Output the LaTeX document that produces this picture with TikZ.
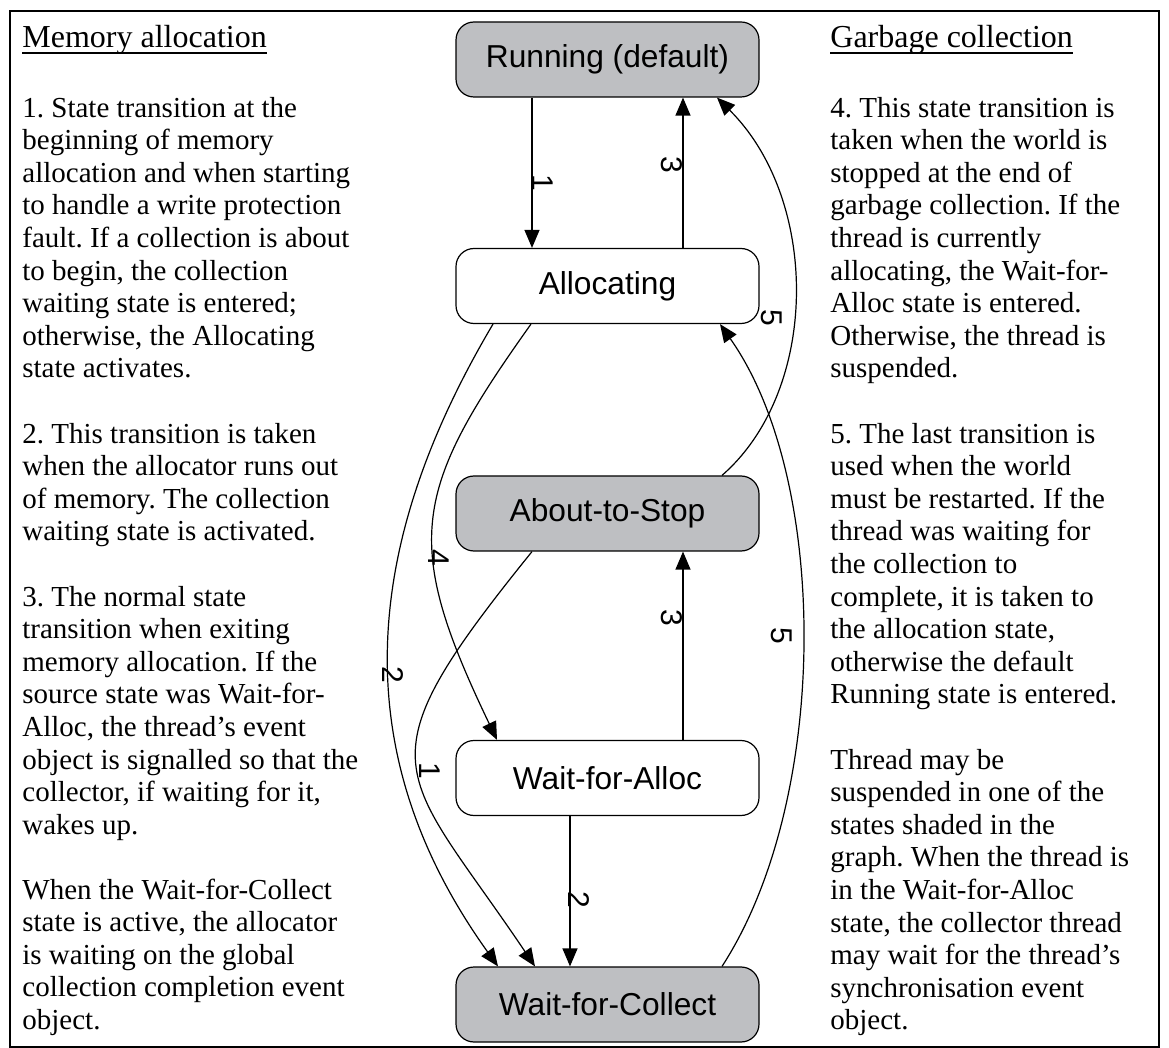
\documentclass[tikz,border=0pt]{standalone}
\usepackage{fontspec}
\setmainfont{Liberation Serif}
\newfontfamily\arialf{Liberation Sans}
\usetikzlibrary{arrows.meta,calc}
\definecolor{stategray}{RGB}{190,191,194}
\frenchspacing
\begin{document}
\frenchspacing
\begin{tikzpicture}[x=0.5pt,y=-0.5pt,
  state/.style={draw=black, line width=0.6pt, rounded corners=9pt, minimum width=151.5pt, minimum height=37.5pt, inner sep=0pt, font=\arialf\fontsize{15.85}{18}\selectfont},
  shadedstate/.style={state, fill=stategray},
  plainstate/.style={state, fill=white},
  trans/.style={line width=0.6pt, -{Triangle[length=9pt,width=7.5pt]}},
  lbl/.style={inner sep=0pt, rotate=-90, font=\arialf\fontsize{15}{18}\selectfont},
  para/.style={anchor=base west, align=left, inner sep=0pt, font=\fontsize{14.5}{16.3}\selectfont},
  head/.style={anchor=base west, inner sep=0pt, font=\fontsize{16}{18}\selectfont},
  uline/.style={line width=0.6pt}
]
\path[use as bounding box] (0,0) rectangle (1169,1048);
\draw[line width=0.7pt] (10,11) rectangle (1159,1047);

% states
\node[shadedstate] (run) at (607.5,59.5) {Running (default)};
\node[plainstate] (alloc) at (607.5,286) {Allocating};
\node[shadedstate] (stop) at (607.5,513.5) {About-to-Stop};
\node[plainstate] (wfa) at (607.5,778) {Wait-for-Alloc};
\node[shadedstate] (wfc) at (607.5,1004.5) {Wait-for-Collect};

% transitions
\draw[trans] ($(run.south)+(-75.5,0)$) -- ($(alloc.north)+(-75.5,0)$);
\draw[trans] ($(alloc.north)+(75.5,0)$) -- ($(run.south)+(75.5,0)$);
\draw[trans] ($(stop.north)+(114.5,0)$) .. controls (820,390) and (820,200) .. ($(run.south)+(109.5,0)$);
\draw[trans] ($(wfc.north)+(114.5,0)$) .. controls (830,800) and (830,480) .. ($(alloc.south)+(112.5,0)$);
\draw[trans] ($(alloc.south)+(-114.5,0)$) .. controls (358,552) and (348,757) .. ($(wfc.north)+(-109.5,0)$);
\draw[trans] ($(alloc.south)+(-76.5,0)$) .. controls (412,491) and (402,542) .. ($(wfa.north)+(-110.5,0)$);
\draw[trans] ($(stop.south)+(-75.5,0)$) .. controls (356,769) and (400,766) .. ($(wfc.north)+(-72.5,0)$);
\draw[trans] ($(wfa.north)+(75.5,0)$) -- ($(stop.south)+(75.5,0)$);
\draw[trans] ($(wfa.south)+(-37.5,0)$) -- ($(wfc.north)+(-37.5,0)$);

% transition labels
\node[lbl] (la1) at (543,183) {1};
\node[lbl] (la3) at (672,165) {3};
\node[lbl] (la5) at (772,318) {5};
\node[lbl] (lb4) at (439,558) {4};
\node[lbl] (lb2) at (393,675) {2};
\node[lbl] (lb1) at (430,771) {1};
\node[lbl] (lb3) at (672,618) {3};
\node[lbl] (lb5) at (782,636) {5};
\node[lbl] (lc2) at (579,900) {2};

% left column (anchored at the baseline of each paragraph's last line)
\node[head] (hmem) at (22,48) {Memory allocation};
\draw[uline] ($(hmem.base west)+(0,5)$) -- ($(hmem.base east)+(0,5)$);
\node[para] (p1) at (22,377.8) {1. State transition at the\\beginning of memory\\allocation and when starting\\to handle a write protection\\fault. If a collection is about\\to begin, the collection\\waiting state is entered;\\otherwise, the Allocating\\state activates.};
\node[para] (p2) at (22,540.8) {2. This transition is taken\\when the allocator runs out\\of memory. The collection\\waiting state is activated.};
\node[para] (p3) at (22,834.2) {3. The normal state\\transition when exiting\\memory allocation. If the\\source state was Wait-for-\\Alloc, the thread’s event\\object is signalled so that the\\collector, if waiting for it,\\wakes up.};
\node[para] (p4) at (22,1029.4) {When the Wait-for-Collect\\state is active, the allocator\\is waiting on the global\\collection completion event\\object.};

% right column
\node[head] (hgc) at (830,48) {Garbage collection};
\draw[uline] ($(hgc.base west)+(0,5)$) -- ($(hgc.base east)+(0,5)$);
\node[para] (p5) at (830,377.8) {4. This state transition is\\taken when the world is\\stopped at the end of\\garbage collection. If the\\thread is currently\\allocating, the Wait-for-\\Alloc state is entered.\\Otherwise, the thread is\\suspended.};
\node[para] (p6) at (830,703.8) {5. The last transition is\\used when the world\\must be restarted. If the\\thread was waiting for\\the collection to\\complete, it is taken to\\the allocation state,\\otherwise the default\\Running state is entered.};
\node[para] (p7) at (830,1029.8) {Thread may be\\suspended in one of the\\states shaded in the\\graph. When the thread is\\in the Wait-for-Alloc\\state, the collector thread\\may wait for the thread’s\\synchronisation event\\object.};
\end{tikzpicture}
\end{document}
